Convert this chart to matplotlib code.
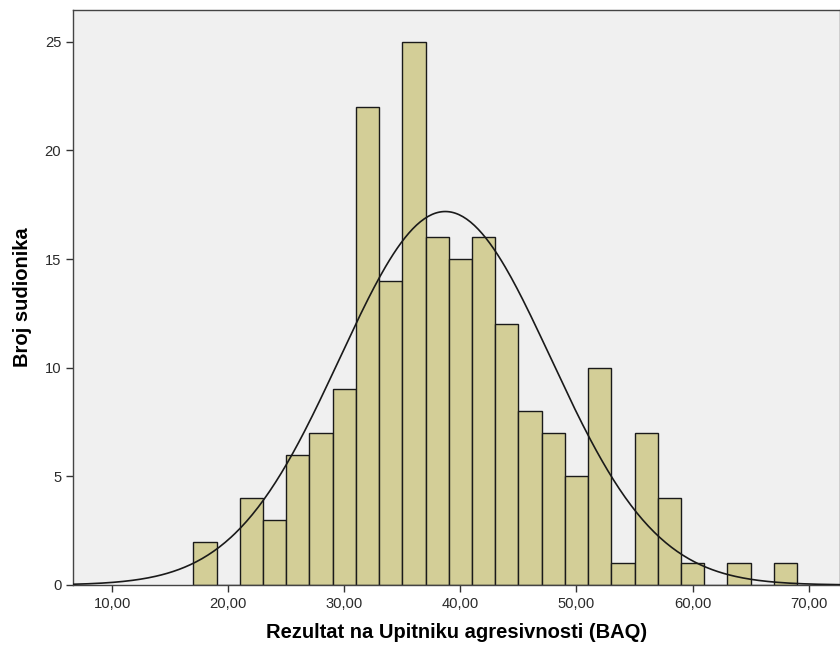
import numpy as np
import matplotlib.pyplot as plt
from matplotlib.ticker import FuncFormatter

# -------------------------------------------------
# Data (bin width 2)
# -------------------------------------------------
bin_left = [17, 19, 21, 23, 25, 27, 29, 31, 33, 35, 37, 39, 41, 43,
            45, 47, 49, 51, 53, 55, 57, 59, 61, 63, 65, 67]
counts = [2, 0, 4, 3, 6, 7, 9, 22, 14, 25, 16, 15, 16, 12,
          8, 7, 5, 10, 1, 7, 4, 1, 0, 1, 0, 1]
bin_width = 2

# normal curve parameters
curve_mean = 38.7
curve_sd = 9.1

x_ticks = [10, 20, 30, 40, 50, 60, 70]
y_ticks = [0, 5, 10, 15, 20, 25]

plt.rcParams['font.family'] = ['Liberation Sans', 'DejaVu Sans']

fig = plt.figure(figsize=(8.4, 6.5), dpi=100)
ax = fig.add_axes([0.087, 0.1, 0.913, 0.885])
ax.set_facecolor('#F0F0F0')

ax.bar(bin_left, counts, width=bin_width, align='edge',
       color='#D3CE97', edgecolor='#1a1a1a', linewidth=1.0, zorder=2)

# normal curve scaled to counts
n_total = sum(counts)
xs = np.linspace(6.6, 73, 400)
ys = n_total * bin_width / (curve_sd * np.sqrt(2 * np.pi)) * \
    np.exp(-0.5 * ((xs - curve_mean) / curve_sd) ** 2)
ax.plot(xs, ys, color='#1a1a1a', linewidth=1.2, zorder=3)

ax.set_xlim(6.64, 72.7)
ax.set_ylim(0, 26.47)
ax.set_xticks(x_ticks)
ax.set_yticks(y_ticks)
ax.xaxis.set_major_formatter(FuncFormatter(lambda v, p: f"{v:.2f}".replace('.', ',')))
ax.tick_params(direction='out', length=5, width=1, colors='#333333',
               labelsize=10.6, labelcolor='#2a2a2a')

for s in ax.spines.values():
    s.set_color('#444444')
    s.set_linewidth(1.0)

ax.set_xlabel('Rezultat na Upitniku agresivnosti (BAQ)', fontsize=14.5,
              fontweight='bold', labelpad=9)
ax.set_ylabel('Broj sudionika', fontsize=14.5, fontweight='bold', labelpad=9)

fig.savefig('out.png', dpi=100)
